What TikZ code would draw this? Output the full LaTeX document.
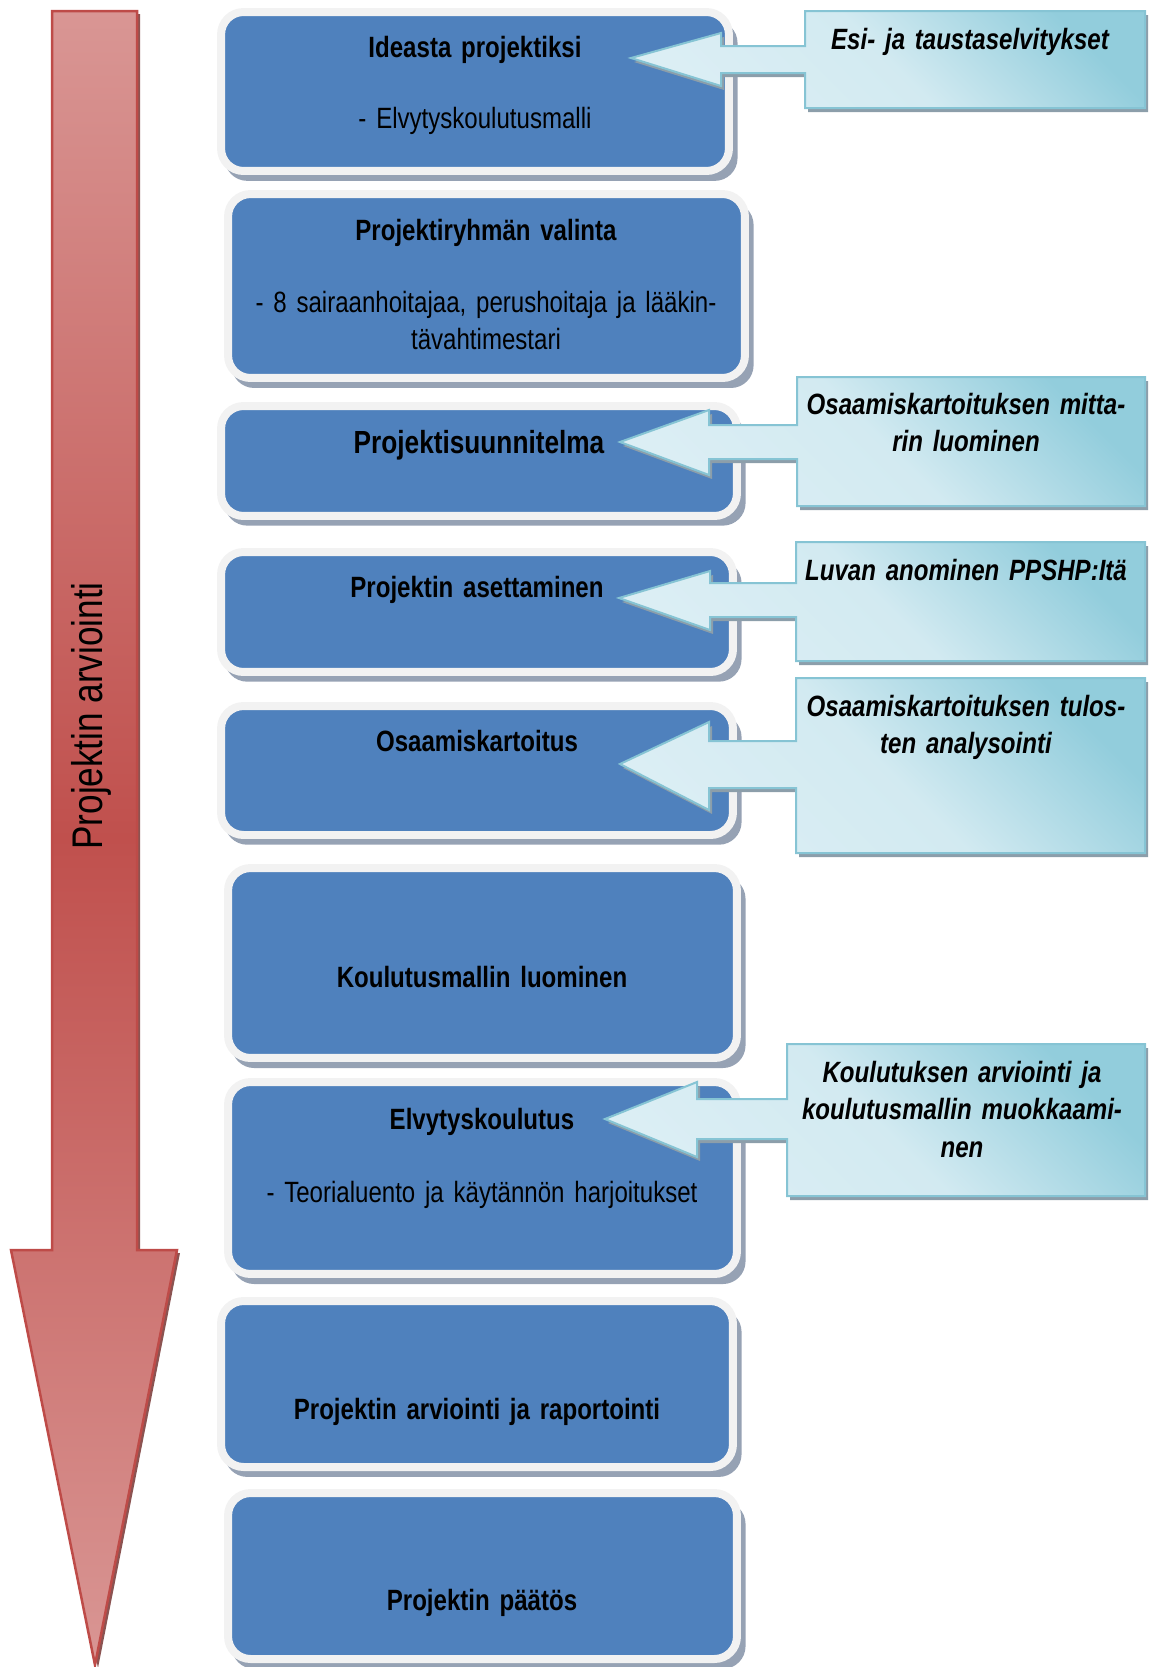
\documentclass[tikz,border=0pt]{standalone}
\usepackage{fontspec}
\setmainfont{Liberation Sans}[FakeStretch=0.82]
\usepackage{xcolor}
\definecolor{boxblue}{RGB}{79, 129, 189}
\definecolor{framegray}{RGB}{242, 242, 242}
\definecolor{boxshadow}{RGB}{150, 162, 180}
\definecolor{calloutlight}{RGB}{219, 238, 244}
\definecolor{calloutdark}{RGB}{146, 205, 220}
\definecolor{calloutedge}{RGB}{134, 196, 212}
\definecolor{calloutshadow}{RGB}{140, 158, 170}
\definecolor{arrowlight}{RGB}{217, 150, 148}
\definecolor{arrowdark}{RGB}{192, 80, 77}
\definecolor{arrowedge}{RGB}{190, 75, 72}
\definecolor{arrowshadow}{RGB}{110, 40, 38}
\usetikzlibrary{shadows}

\newcommand{\narrowspace}{\spaceskip=0.22em plus 0.1em minus 0.05em\relax}

\tikzset{
  stagebox/.style={rectangle, rounded corners=0.45cm, fill=boxblue, draw=framegray, line width=0.16cm,
    drop shadow={shadow scale=1.01, shadow xshift=0.12cm, shadow yshift=-0.18cm, fill=boxshadow, opacity=1}},
  callout/.style={draw=calloutedge, line width=0.04cm, top color=calloutdark, bottom color=calloutlight,
    middle color=calloutlight!88!calloutdark, shading angle=-45,
    drop shadow={shadow xshift=0.06cm, shadow yshift=-0.08cm, fill=calloutshadow, opacity=1}},
  timearrow/.style={top color=arrowlight, bottom color=arrowlight, middle color=arrowdark, draw=arrowedge,
    line width=0.05cm, drop shadow={shadow xshift=0.06cm, shadow yshift=-0.06cm, fill=arrowshadow, opacity=0.8}},
  stagetitle/.style={font=\fontsize{16.7}{21.6}\selectfont\bfseries\narrowspace, anchor=base, align=center, text width=10cm, inner sep=0pt},
  stagetext/.style={font=\fontsize{16.7}{21.6}\selectfont\narrowspace, anchor=base, align=center, text width=10cm, inner sep=0pt},
  callouttext/.style={font=\fontsize{16.7}{21.6}\selectfont\bfseries\itshape\narrowspace, anchor=base, align=center, text width=7cm, inner sep=0pt}
}

\begin{document}
\begin{tikzpicture}[x=0.02cm, y=-0.02cm]
    \useasboundingbox (0, 0) rectangle (1149, 1667);

    % Evaluation arrow
    \path[timearrow] (52, 11) -- (137, 11) -- (137, 1250) -- (177, 1250) -- (95, 1665) -- (11, 1250) -- (52, 1250) -- cycle;
    \node[font=\fontsize{24.4}{29}\selectfont\narrowspace, rotate=90, anchor=base] (arviointi) at (102, 716) {Projektin arviointi};

    % Stages
    \node[stagebox, minimum width=10.16cm, minimum height=3.18cm] (ideasta) at (475, 91.5) {};
    \node[stagebox, minimum width=10.34cm, minimum height=3.68cm] (ryhma) at (486.5, 286) {};
    \node[stagebox, minimum width=10.32cm, minimum height=2.20cm] (suunnitelma) at (479, 461) {};
    \node[stagebox, minimum width=10.24cm, minimum height=2.40cm] (asettaminen) at (477, 612) {};
    \node[stagebox, minimum width=10.24cm, minimum height=2.58cm] (kartoitus) at (477, 770.5) {};
    \node[stagebox, minimum width=10.18cm, minimum height=3.80cm] (malli) at (482.5, 963) {};
    \node[stagebox, minimum width=10.18cm, minimum height=3.84cm] (koulutus) at (482.5, 1178) {};
    \node[stagebox, minimum width=10.24cm, minimum height=3.32cm] (raportointi) at (477, 1384) {};
    \node[stagebox, minimum width=10.18cm, minimum height=3.32cm] (paatos) at (482.5, 1576) {};

    \node[stagetitle] (ideastaT) at (475, 57) {Ideasta projektiksi};
    \node[stagetext] (ideastaS) at (475, 128) {- Elvytyskoulutusmalli};
    \node[stagetitle] (ryhmaT) at (486, 240) {Projektiryhmän valinta};
    \node[stagetext] (ryhmaS) at (486, 312) {- 8 sairaanhoitajaa, perushoitaja ja lääkin-\\tävahtimestari};
    \node[stagetitle, font=\fontsize{18.2}{22}\selectfont\bfseries] (suunnitelmaT) at (479, 453) {Projektisuunnitelma};
    \node[stagetitle] (asettaminenT) at (477, 597) {Projektin asettaminen};
    \node[stagetitle] (kartoitusT) at (477, 751) {Osaamiskartoitus};
    \node[stagetitle] (malliT) at (482, 987) {Koulutusmallin luominen};
    \node[stagetitle] (koulutusT) at (482, 1129) {Elvytyskoulutus};
    \node[stagetext] (koulutusS) at (482, 1202) {- Teorialuento ja käytännön harjoitukset};
    \node[stagetitle] (raportointiT) at (477, 1419) {Projektin arviointi ja raportointi};
    \node[stagetitle] (paatosT) at (482, 1610) {Projektin päätös};

    % Callouts
    \path[callout] (805, 11) -- (1145, 11) -- (1145, 108) -- (805, 108) -- (805, 73) -- (721, 73) -- (721, 86)
        -- (631, 58) -- (721, 33) -- (721, 46) -- (805, 46) -- cycle;
    \path[callout] (797, 377) -- (1145, 377) -- (1145, 506) -- (797, 506) -- (797, 459) -- (709, 459) -- (709, 475)
        -- (620, 442) -- (709, 410) -- (709, 425) -- (797, 425) -- cycle;
    \path[callout] (796, 542) -- (1145, 542) -- (1145, 661) -- (796, 661) -- (796, 617) -- (710, 617) -- (710, 630)
        -- (619, 598) -- (710, 571) -- (710, 583) -- (796, 583) -- cycle;
    \path[callout] (796, 678) -- (1145, 678) -- (1145, 853) -- (796, 853) -- (796, 788) -- (709, 788) -- (709, 810)
        -- (620, 764) -- (709, 722) -- (709, 741) -- (796, 741) -- cycle;
    \path[callout] (787, 1044) -- (1145, 1044) -- (1145, 1196) -- (787, 1196) -- (787, 1139) -- (697, 1139) -- (697, 1157)
        -- (605, 1119) -- (697, 1082) -- (697, 1099) -- (787, 1099) -- cycle;

    \node[callouttext] (esi) at (970, 49) {Esi- ja taustaselvitykset};
    \node[callouttext] (mittari) at (966, 414) {Osaamiskartoituksen mitta-\\rin luominen};
    \node[callouttext] (lupa) at (966, 580) {Luvan anominen PPSHP:Itä};
    \node[callouttext] (analyysi) at (966, 716) {Osaamiskartoituksen tulos-\\ten analysointi};
    \node[callouttext] (arvio) at (962, 1082) {Koulutuksen arviointi ja\\koulutusmallin muokkaami-\\nen};
\end{tikzpicture}
\end{document}
